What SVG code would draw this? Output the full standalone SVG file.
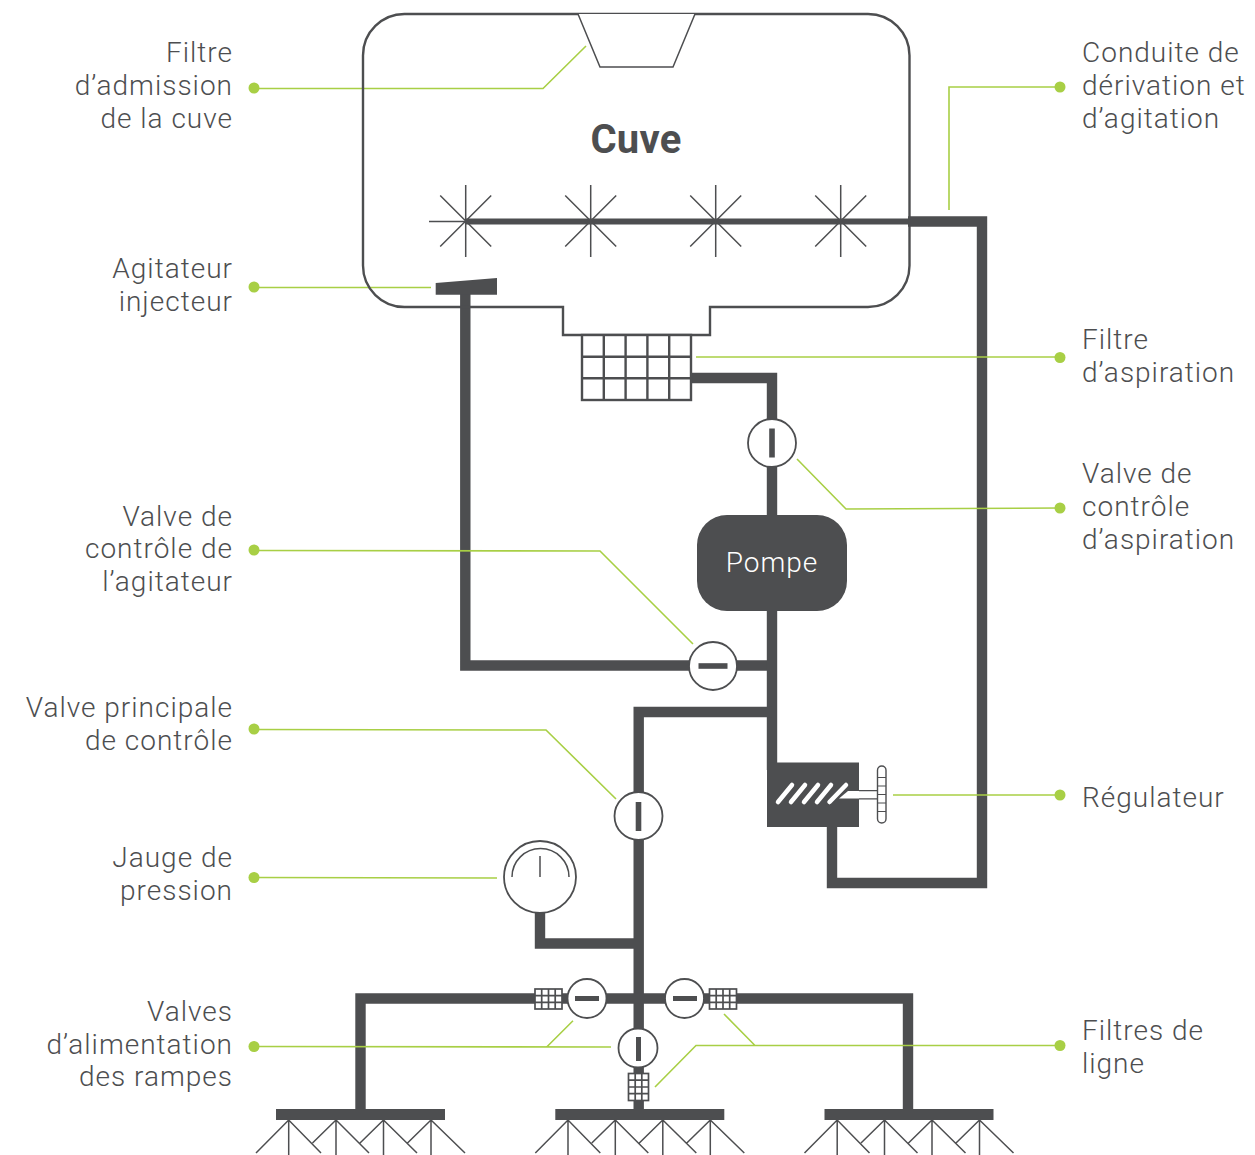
<svg xmlns="http://www.w3.org/2000/svg" width="1255" height="1155" viewBox="0 0 1255 1155">
<style>
text{font-family:"Roboto","Liberation Sans",sans-serif;font-weight:300;font-size:28px;fill:#4d4e50;letter-spacing:1px}
.l{text-anchor:end}
.pipe{fill:none;stroke:#4d4e50;stroke-width:10.4}
.thin{fill:none;stroke:#4d4e50;stroke-width:1.5}
.line{fill:none;stroke:#4d4e50;stroke-width:2.4}
.grid{fill:#fff;stroke:#4d4e50;stroke-width:1.7}
.v{fill:#fff;stroke:#4d4e50;stroke-width:1.8}
.bar{fill:#4d4e50}
.g{fill:none;stroke:#a8cf45;stroke-width:1.6}
.dot{fill:#a8cf45}
</style>
<defs>
<g id="spray"><path class="thin" d="M0-36V36M-25.500-25.500L25.500 25.500M-25.500 25.500L25.500-25.500"/></g>
<g id="nozzles"><path class="thin" d="M12.700 1120V1155M-20 1153L12.700 1120L45 1153M36.500 1143L60 1120V1155M60 1120L93 1153M84 1143L107.500 1120V1155M107.500 1120L141 1153M131.500 1143L155 1120V1155M155 1120L189 1153"/><rect class="bar" x="0" y="1109" width="169" height="11"/></g>
<g id="fh"><rect class="grid" width="27" height="20"/><path class="grid" d="M6.700 0V20M13.500 0V20M20.200 0V20M0 6.700H27M0 13.300H27"/></g>
<g id="fv"><rect class="grid" width="20" height="27"/><path class="grid" d="M6.700 0V27M13.300 0V27M0 6.700H20M0 13.500H20M0 20.200H20"/></g>
</defs>
<g id="connectors">
<path class="pipe" style="stroke-width:6" d="M466 221.500H912"/>
<path class="pipe" d="M908 221.500H982V883H832V825"/>
<path class="pipe" d="M465.300 292V665.500H772"/>
<path class="pipe" d="M691 378H772V770"/>
<path class="pipe" d="M772 712H638.700V1110"/>
<path class="pipe" d="M540 910V943.500H638"/>
<path class="pipe" d="M360.500 1112V998.500H908V1112"/>
<g id="leaders">
<path class="g" d="M254 88.500H543L586 46"/>
<path class="g" d="M254 287.500H431"/>
<path class="g" d="M254 550.500L600 551L693 644"/>
<path class="g" d="M254 729.500L546 730L616 799"/>
<path class="g" d="M254 877.500L497 878"/>
<path class="g" d="M254 1046.500L611 1047M546.700 1047L573 1020.700"/>
<path class="g" d="M1060 87H949V210"/>
<path class="g" d="M1060 357H696"/>
<path class="g" d="M1060 508L846 509L797 459"/>
<path class="g" d="M1060 795H893"/>
<path class="g" d="M1060 1045.500H696L655 1087M755 1045.500L724 1014"/>
</g>
</g>
<g id="cuve">
<path class="line" d="M405 14H868A41.500 41.500 0 0 1 909.500 55.500V265.500A41.500 41.500 0 0 1 868 307H710V335H563V307H405A41.500 41.500 0 0 1 363 265.500V55.500A41.500 41.500 0 0 1 405 14Z"/>
<path class="thin" d="M578 14L600 67H673L695 14" style="fill:#fff"/>
<text x="636" y="153" text-anchor="middle" style="font-weight:700;font-size:40px;letter-spacing:0.2px">Cuve</text>
</g>
<g id="rampe-agitation">
<use href="#spray" x="465.700" y="221"/><use href="#spray" x="590.700" y="221"/><use href="#spray" x="715.700" y="221"/><use href="#spray" x="840.700" y="221"/>
<path class="thin" d="M429 221.500H466"/>
</g>
<g id="agitateur"><path class="bar" d="M435.700 283L497 278V294.700H435.700Z"/></g>
<g id="filtre-aspiration">
<rect x="582" y="335" width="109" height="65" style="fill:#fff;stroke:#4d4e50;stroke-width:2.400"/>
<path style="fill:none;stroke:#4d4e50;stroke-width:2.400" d="M603.800 335V400M625.600 335V400M647.400 335V400M669.200 335V400M582 356.700H691M582 378.300H691"/>
</g>
<g id="valve-aspiration"><circle class="v" cx="772" cy="443" r="24"/><rect class="bar" x="769.200" y="428.500" width="5.600" height="29"/></g>
<g id="pompe"><rect class="bar" x="697" y="515" width="150" height="96" rx="30"/><text x="772" y="572" text-anchor="middle" style="fill:#fff">Pompe</text></g>
<g id="valve-agitateur"><circle class="v" cx="713" cy="666" r="24"/><rect class="bar" x="698.500" y="663.200" width="29" height="5.600"/></g>
<g id="regulateur">
<rect class="bar" x="767" y="762.500" width="92" height="64.500"/>
<path d="M778 802L792 785M791 802L805 785M804 802L818 785M817 802L831 785M829.500 802L846 785" style="fill:none;stroke:#fff;stroke-width:4.500;stroke-linecap:round"/>
<path d="M839 798.500L848 791H878V798.500Z" style="fill:#fff"/>
<path class="thin" style="stroke-width:1.200" d="M859 790.600H878M859 798.800H878"/>
<rect x="877.500" y="766" width="8.500" height="57" rx="4.200" style="fill:#fff;stroke:#4d4e50;stroke-width:1.400"/>
<path class="thin" style="stroke-width:1.200" d="M877.500 777.500H886M877.500 786H886M877.500 794.500H886M877.500 803H886M877.500 811.500H886"/>
</g>
<g id="valve-principale"><circle class="v" cx="638.500" cy="816" r="24"/><rect class="bar" x="635.700" y="802" width="5.600" height="29"/></g>
<g id="jauge"><circle class="v" cx="540" cy="877" r="36"/><path class="thin" d="M512 877A28.500 28.500 0 0 1 569 877M540 856V877"/></g>
<g id="filtre-g"><use href="#fh" x="535" y="989"/></g>
<g id="filtre-d"><use href="#fh" x="709.500" y="989"/></g>
<g id="filtre-b"><use href="#fv" x="628.500" y="1073.500"/></g>
<g id="valve-g"><circle class="v" cx="587" cy="998.500" r="19.500"/><rect class="bar" x="575" y="996" width="24" height="5"/></g>
<g id="valve-d"><circle class="v" cx="684.500" cy="998.500" r="19.500"/><rect class="bar" x="673" y="996" width="24" height="5"/></g>
<g id="valve-b"><circle class="v" cx="638" cy="1048" r="19.500"/><rect class="bar" x="636" y="1037" width="5" height="24"/></g>
<g id="rampes">
<use href="#nozzles" x="276"/><use href="#nozzles" x="555.300"/><use href="#nozzles" x="824.500"/>
</g>
<g id="points">
<circle class="dot" cx="254" cy="88" r="5.500"/><circle class="dot" cx="254" cy="287" r="5.500"/><circle class="dot" cx="254" cy="550" r="5.500"/><circle class="dot" cx="254" cy="729" r="5.500"/><circle class="dot" cx="254" cy="877.500" r="5.500"/><circle class="dot" cx="254" cy="1046.500" r="5.500"/>
<circle class="dot" cx="1060" cy="87" r="5.500"/><circle class="dot" cx="1060" cy="357.500" r="5.500"/><circle class="dot" cx="1060" cy="508" r="5.500"/><circle class="dot" cx="1060" cy="795" r="5.500"/><circle class="dot" cx="1060" cy="1045.500" r="5.500"/>
</g>
<g id="labels">
<text class="l" x="233" y="62">Filtre</text><text class="l" x="233" y="95">d’admission</text><text class="l" x="233" y="128">de la cuve</text>
<text class="l" x="233" y="278">Agitateur</text><text class="l" x="233" y="311">injecteur</text>
<text class="l" x="233" y="526">Valve de</text><text class="l" x="233" y="558">contrôle de</text><text class="l" x="233" y="591">l’agitateur</text>
<text class="l" x="233" y="717">Valve principale</text><text class="l" x="233" y="750">de contrôle</text>
<text class="l" x="233" y="867">Jauge de</text><text class="l" x="233" y="900">pression</text>
<text class="l" x="233" y="1021">Valves</text><text class="l" x="233" y="1054">d’alimentation</text><text class="l" x="233" y="1086">des rampes</text>
<text x="1082" y="62">Conduite de</text><text x="1082" y="95">dérivation et</text><text x="1082" y="128">d’agitation</text>
<text x="1082" y="349">Filtre</text><text x="1082" y="382">d’aspiration</text>
<text x="1082" y="483">Valve de</text><text x="1082" y="516">contrôle</text><text x="1082" y="549">d’aspiration</text>
<text x="1082" y="807">Régulateur</text>
<text x="1082" y="1040">Filtres de</text><text x="1082" y="1073">ligne</text>
</g>
</svg>
